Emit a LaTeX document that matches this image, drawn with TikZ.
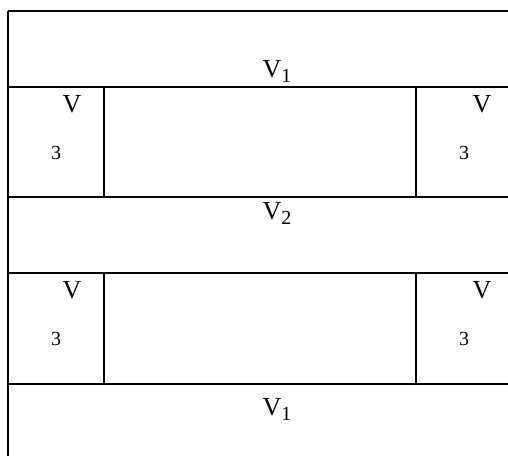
\documentclass[tikz,border=0pt]{standalone}
\usepackage{fontspec}
\setmainfont{Liberation Serif}
\usepackage{tikz}

\newcommand{\bigV}{\fontsize{26}{26}\selectfont V}
\newcommand{\subnum}[1]{\fontsize{20}{20}\selectfont #1}

\begin{document}
\begin{tikzpicture}[x=1pt,y=-1pt]
  \tikzset{rule/.style = {line width=1.8pt}}
  \tikzset{band/.style = {inner sep=0pt, anchor=base}}
  \tikzset{sidelabel/.style = {inner sep=0pt, anchor=base}}

	\useasboundingbox (0,0) rectangle (508,456);

	% outer frame and row lines
	\draw[rule] (8,11) -- (8,456);
    \foreach \y in {11,87,197,273,384}
    \draw[rule] (8,\y) -- (508,\y);

	% side cells
    \foreach \x in {104,416}
    {
    \draw[rule] (\x,87) -- (\x,197);
    \draw[rule] (\x,273) -- (\x,384);
    }

	\node[band] (VA) at (277,77) {\bigV\raisebox{-0.2em}{\subnum{1}}};
	\node[band] (VB) at (277,219) {\bigV\raisebox{-0.2em}{\subnum{2}}};
	\node[band] (VC) at (277,415) {\bigV\raisebox{-0.2em}{\subnum{1}}};

    \foreach \name/\vx/\nx/\vy/\ny in {TL/72/56/112/159, TR/482/464/112/159, BL/72/56/298/345, BR/482/464/298/345}
    {
    \node[sidelabel] (V\name) at (\vx,\vy) {\bigV};
    \node[sidelabel] (N\name) at (\nx,\ny) {\subnum{3}};
    }

\end{tikzpicture}
\end{document}
